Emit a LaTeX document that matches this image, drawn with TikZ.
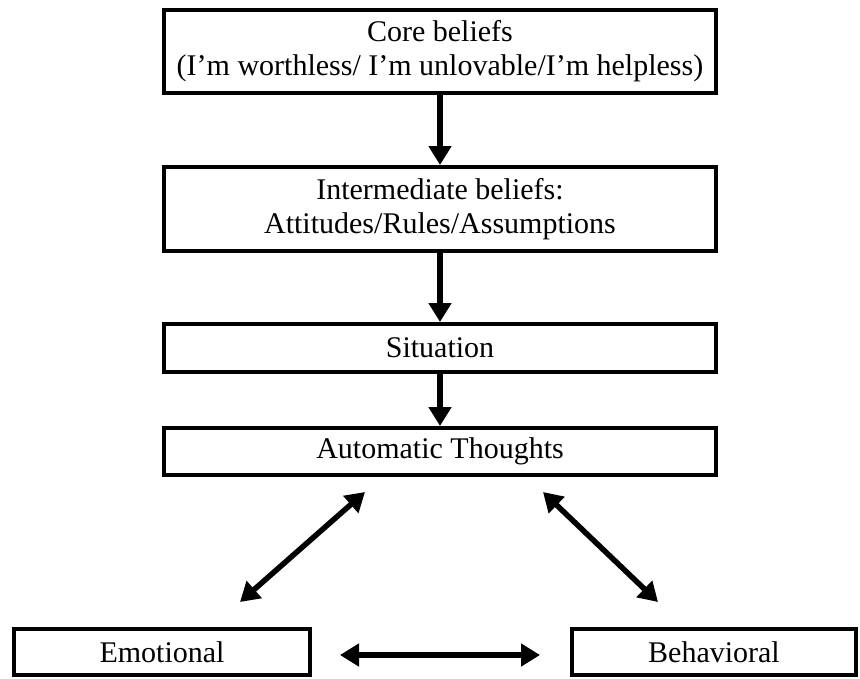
\documentclass[tikz,border=0pt]{standalone}
\usepackage{fontspec}
\setmainfont{Liberation Serif}
\usetikzlibrary{arrows.meta}
\tikzset{
  box/.style={draw=black, line width=4pt, fill=white, align=center, inner sep=0pt,
    font=\fontsize{30}{34}\selectfont},
  arr/.style={line width=5.5pt, -{Triangle[length=19pt,width=22pt]}},
  darr/.style={line width=5.5pt, {Triangle[length=19pt,width=22pt]}-{Triangle[length=19pt,width=22pt]}}
}
\begin{document}
\begin{tikzpicture}[x=1pt,y=-1pt]
\useasboundingbox (0,0) rectangle (860,678);
\node[box, minimum width=552pt, minimum height=83pt] (core) at (440,51.5)
  {Core beliefs\\(I’m worthless/ I’m unlovable/I’m helpless)};
\node[box, minimum width=552pt, minimum height=84pt] (inter) at (440,209)
  {Intermediate beliefs:\\Attitudes/Rules/Assumptions};
\node[box, minimum width=552pt, minimum height=48pt] (sit) at (440,348) {Situation};
\node[box, minimum width=552pt, minimum height=47pt] (auto) at (440,451.5) {Automatic Thoughts};
\node[box, minimum width=296pt, minimum height=46pt] (emo) at (162,652) {Emotional};
\node[box, minimum width=284pt, minimum height=46pt] (beh) at (714,652) {Behavioral};
\coordinate (l1) at (365,492);
\coordinate (l2) at (240,602);
\coordinate (r1) at (543,492);
\coordinate (r2) at (658,602);
\coordinate (h1) at (340,655);
\coordinate (h2) at (540,655);
\draw[arr] (core.south) -- (inter.north);
\draw[arr] (inter.south) -- (sit.north);
\draw[arr] (sit.south) -- (auto.north);
\draw[darr] (l1) -- (l2);
\draw[darr] (r1) -- (r2);
\draw[darr] (h1) -- (h2);
\end{tikzpicture}
\end{document}
